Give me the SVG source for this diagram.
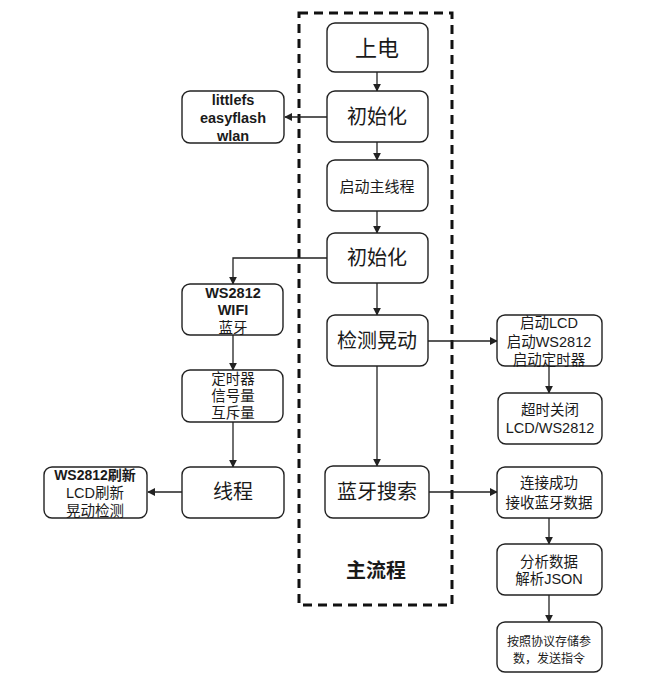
<svg xmlns="http://www.w3.org/2000/svg" width="656" height="687" viewBox="0 0 656 687">
<defs>
<style>
.n{fill:#fff;stroke:#222;stroke-width:1.4}
.t{font-family:"Liberation Sans","Noto Sans CJK SC",sans-serif;fill:#1a1a1a;text-anchor:middle;dominant-baseline:central}
.b{font-size:20px}
.s{font-size:14.5px}
.c{fill:none;stroke:#222;stroke-width:1.3}
</style>
<marker id="a" viewBox="0 0 10 10" refX="9" refY="5" markerWidth="8" markerHeight="8" markerUnits="userSpaceOnUse" orient="auto"><path d="M0,0 L10,5 L0,10 z" fill="#222"/></marker>
</defs>
<rect width="656" height="687" fill="#fff"/>
<g id="container">
<rect x="299" y="13" width="153" height="592" fill="none" stroke="#111" stroke-width="3" stroke-dasharray="9,6"/>
<text class="t" x="376" y="571" style="font-size:20px;font-weight:bold">主流程</text>
</g>
<g id="connectors">
<path class="c" d="M377,72 V91" marker-end="url(#a)"/>
<path class="c" d="M327,117 H285" marker-end="url(#a)"/>
<path class="c" d="M377,142 V160" marker-end="url(#a)"/>
<path class="c" d="M377,211 V233" marker-end="url(#a)"/>
<path class="c" d="M327,258 H233 V284" marker-end="url(#a)"/>
<path class="c" d="M377,283 V315" marker-end="url(#a)"/>
<path class="c" d="M233,335 V370" marker-end="url(#a)"/>
<path class="c" d="M233,422 V467" marker-end="url(#a)"/>
<path class="c" d="M182,492 H148" marker-end="url(#a)"/>
<path class="c" d="M377,366 V466" marker-end="url(#a)"/>
<path class="c" d="M428,341 H497" marker-end="url(#a)"/>
<path class="c" d="M549,366 V393" marker-end="url(#a)"/>
<path class="c" d="M429,492 H497" marker-end="url(#a)"/>
<path class="c" d="M549,518 V544" marker-end="url(#a)"/>
<path class="c" d="M549,595 V622" marker-end="url(#a)"/>
</g>
<g id="power"><rect class="n" x="327" y="23" width="101" height="49" rx="8"/><text class="t" x="377" y="48" style="font-size:22px">上电</text></g>
<g id="init1"><rect class="n" x="327" y="91" width="101" height="51" rx="8"/><text class="t b" x="377" y="117">初始化</text></g>
<g id="startmain"><rect class="n" x="327" y="160" width="101" height="51" rx="8"/><text class="t" x="377" y="186" style="font-size:15px">启动主线程</text></g>
<g id="init2"><rect class="n" x="327" y="233" width="101" height="50" rx="8"/><text class="t b" x="377" y="258">初始化</text></g>
<g id="shake"><rect class="n" x="327" y="315" width="101" height="51" rx="8"/><text class="t b" x="377" y="341">检测晃动</text></g>
<g id="btsearch"><rect class="n" x="325" y="466" width="104" height="52" rx="8"/><text class="t b" x="377" y="492">蓝牙搜索</text></g>
<g id="fs"><rect class="n" x="182" y="91" width="102" height="52" rx="8"/>
<text class="t s" x="233" y="100" style="font-weight:bold">littlefs</text>
<text class="t s" x="233" y="118" style="font-weight:bold">easyflash</text>
<text class="t s" x="233" y="136" style="font-weight:bold">wlan</text></g>
<g id="periph"><rect class="n" x="182" y="284" width="101" height="51" rx="8"/>
<text class="t s" x="233" y="293" style="font-weight:bold">WS2812</text>
<text class="t s" x="233" y="310" style="font-weight:bold">WIFI</text>
<text class="t s" x="233" y="328">蓝牙</text></g>
<g id="rtos"><rect class="n" x="182" y="370" width="101" height="52" rx="8"/>
<text class="t s" x="233" y="379">定时器</text>
<text class="t s" x="233" y="396">信号量</text>
<text class="t s" x="233" y="413">互斥量</text></g>
<g id="thread"><rect class="n" x="182" y="467" width="102" height="51" rx="8"/><text class="t b" x="233" y="492">线程</text></g>
<g id="threadjobs"><rect class="n" x="44" y="467" width="103" height="51" rx="8"/>
<text class="t" x="95" y="475" style="font-size:14px;font-weight:bold">WS2812刷新</text>
<text class="t s" x="95" y="493">LCD刷新</text>
<text class="t s" x="95" y="511">晃动检测</text></g>
<g id="startlcd"><rect class="n" x="497" y="315" width="105" height="51" rx="8"/>
<text class="t s" x="549" y="323">启动LCD</text>
<text class="t s" x="549" y="342">启动WS2812</text>
<text class="t s" x="549" y="360">启动定时器</text></g>
<g id="timeout"><rect class="n" x="498" y="393" width="104" height="51" rx="8"/>
<text class="t s" x="550" y="410">超时关闭</text>
<text class="t s" x="550" y="428">LCD/WS2812</text></g>
<g id="connected"><rect class="n" x="497" y="467" width="105" height="51" rx="8"/>
<text class="t s" x="549" y="483">连接成功</text>
<text class="t s" x="549" y="503">接收蓝牙数据</text></g>
<g id="parse"><rect class="n" x="497" y="544" width="105" height="51" rx="8"/>
<text class="t s" x="549" y="562">分析数据</text>
<text class="t s" x="549" y="579">解析JSON</text></g>
<g id="store"><rect class="n" x="497" y="622" width="105" height="50" rx="8"/>
<text class="t" x="549" y="642" style="font-size:12px">按照协议存储参</text>
<text class="t" x="549" y="659" style="font-size:12px">数，发送指令</text></g>
</svg>
